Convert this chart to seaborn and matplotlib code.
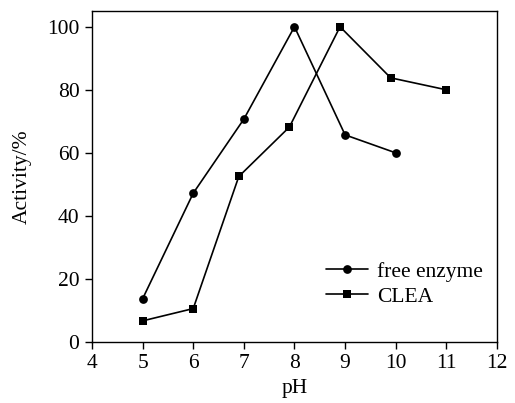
import matplotlib
matplotlib.use('AGG')
import matplotlib.pyplot as plt
import seaborn as sns
import pandas as pd

# data
free_ph = [5, 6, 7, 8, 9, 10]
free_act = [13.7, 47.2, 70.7, 100.0, 65.7, 60.0]

clea_ph = [5, 6, 6.9, 7.9, 8.9, 9.9, 11]
clea_act = [6.7, 10.6, 52.5, 68.2, 100.0, 83.8, 80.0]

x_ticks = [4, 5, 6, 7, 8, 9, 10, 11, 12]
y_ticks = [0, 20, 40, 60, 80, 100]

sns.set_theme(style='ticks')
plt.rcParams['font.family'] = ['Liberation Serif', 'DejaVu Serif']
plt.rcParams['text.color'] = 'black'
plt.rcParams['axes.labelcolor'] = 'black'

FS = 15.5

free_df = pd.DataFrame({'pH': free_ph, 'Activity': free_act})
clea_df = pd.DataFrame({'pH': clea_ph, 'Activity': clea_act})

fig = plt.figure(figsize=(5.15, 4.03), dpi=100)
ax = fig.add_axes([0.1786, 0.1514, 0.7864, 0.8213])

sns.lineplot(data=free_df, x='pH', y='Activity', ax=ax, color='black',
             marker='o', markersize=6.3, linewidth=1.2, markeredgewidth=0,
             label='free enzyme')
sns.lineplot(data=clea_df, x='pH', y='Activity', ax=ax, color='black',
             marker='s', markersize=5.3, linewidth=1.2, markeredgewidth=0,
             label='CLEA')

ax.set_xlim(4, 12)
ax.set_ylim(0, 105)
ax.set_xticks(x_ticks)
ax.set_yticks(y_ticks)

for sp in ax.spines.values():
    sp.set_color('black')
    sp.set_linewidth(1.0)

ax.tick_params(direction='out', length=5, width=1.0, labelsize=FS,
               colors='black', pad=4)

ax.set_xlabel('pH', fontsize=FS, labelpad=4)
ax.set_ylabel('Activity/%', fontsize=FS, labelpad=11)

leg = ax.legend(loc='upper left', frameon=False, fontsize=FS,
                handlelength=1.95, handletextpad=0.4, labelspacing=0.22,
                borderpad=0, borderaxespad=0,
                bbox_to_anchor=(0.578, 0.242))

plt.savefig('out.png', dpi=100)
